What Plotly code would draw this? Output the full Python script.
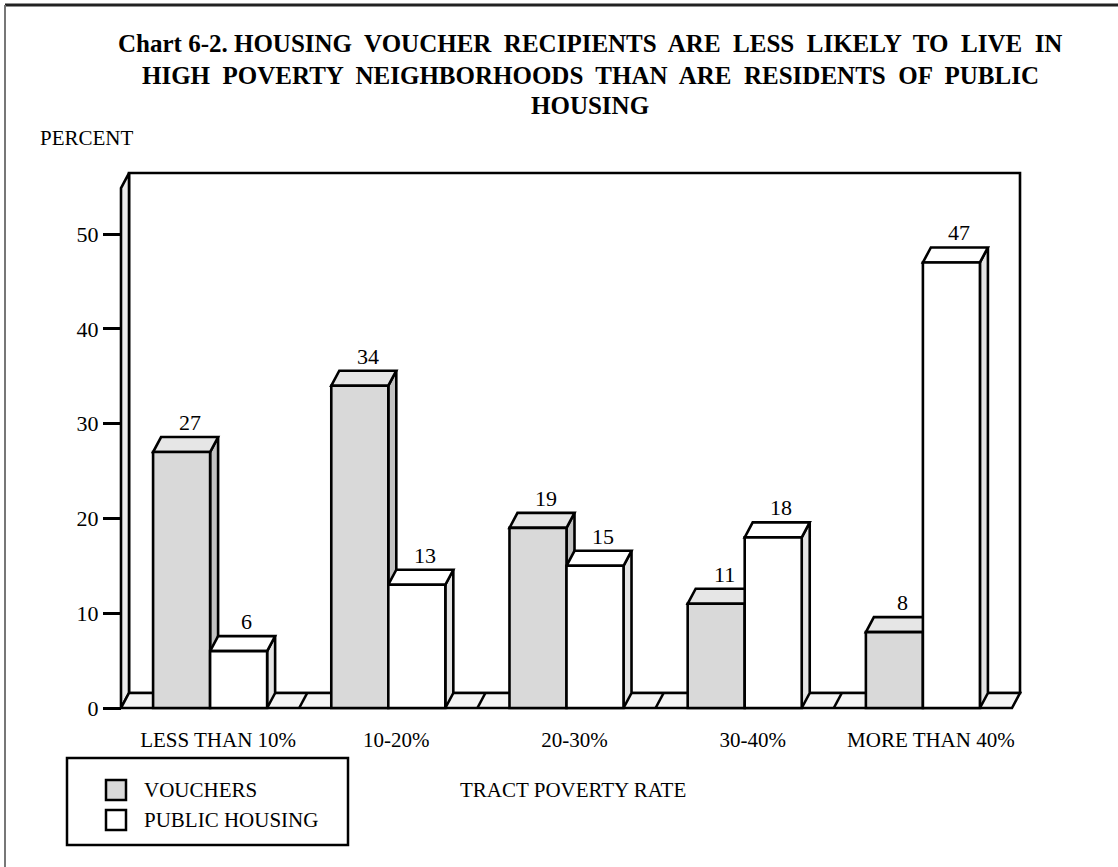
import plotly.graph_objects as go

# ---- data ----
categories = ["LESS THAN 10%", "10-20%", "20-30%", "30-40%", "MORE THAN 40%"]
vouchers = [27, 34, 19, 11, 8]
public_housing = [6, 13, 15, 18, 47]
y_ticks = [0, 10, 20, 30, 40, 50]

# name, values, front colour, top colour, side colour, bar offset
series = [
    ("VOUCHERS", vouchers, "#d9d9d9", "#e6e6e6", "#c2c2c2", -0.32),
    ("PUBLIC HOUSING", public_housing, "#ffffff", "#ffffff", "#e4e4e4", 0.0),
]

# ---- geometry (pixels) ----
W, H = 1118, 867
L, R, T, B = 115, 1026, 168, 712       # padded plot area
X0_PX, Y0_PX = 121, 708                # where x=-0.5 and y=0 sit
PX_PER_CAT = 178.2
PX_PER_UNIT = 9.48

x_range = [-0.5 - (X0_PX - L) / PX_PER_CAT, -0.5 + (R - X0_PX) / PX_PER_CAT]
y_range = [-(B - Y0_PX) / PX_PER_UNIT, (Y0_PX - T) / PX_PER_UNIT]

DX = 8 / PX_PER_CAT      # depth offset in x units
DY = 15 / PX_PER_UNIT    # depth offset in y units
Y_TOP = 54.85            # front top of the left wall
BAR_W = 0.32
LW = 2.6
FONT = "Liberation Serif, Times New Roman, serif"


def px(x):
    return (x - L) / (R - L)


def py(y):
    return (B - y) / (B - T)


def poly(pts):
    return "M " + " L ".join(f"{x},{y}" for x, y in pts) + " Z"


def label(x, y, text, size=21, anchor="center", bold=False):
    if bold:
        text = f"<b>{text}</b>"
    return dict(x=px(x), y=py(y), xref="paper", yref="paper", text=text,
                xanchor=anchor, yanchor="middle", showarrow=False,
                font=dict(size=size, color="black", family=FONT))


shapes = []
line = dict(color="black", width=LW)

# back wall
shapes.append(dict(type="rect", xref="x", yref="y", layer="below",
                   x0=-0.5 + DX, x1=4.5 + DX, y0=DY, y1=Y_TOP + DY,
                   fillcolor="white", line=line))
# left side wall
shapes.append(dict(type="path", xref="x", yref="y", layer="below",
                   path=poly([(-0.5, 0), (-0.5, Y_TOP), (-0.5 + DX, Y_TOP + DY), (-0.5 + DX, DY)]),
                   fillcolor="#ececec", line=line))
# floor
shapes.append(dict(type="path", xref="x", yref="y", layer="below",
                   path=poly([(-0.5, 0), (4.5, 0), (4.5 + DX, DY), (-0.5 + DX, DY)]),
                   fillcolor="#f5f5f5", line=line))
for b in [0.5, 1.5, 2.5, 3.5]:
    shapes.append(dict(type="line", xref="x", yref="y", layer="below",
                       x0=b, y0=0, x1=b + DX, y1=DY, line=line))

# 3D faces of the bars (tops and sides)
annotations = []
for i in range(len(categories)):
    for name, vals, front, top, side, off in series:
        v = vals[i]
        x0 = i + off
        x1 = x0 + BAR_W
        shapes.append(dict(type="path", xref="x", yref="y", layer="below",
                           path=poly([(x1, 0), (x1, v), (x1 + DX, v + DY), (x1 + DX, DY)]),
                           fillcolor=side, line=line))
        shapes.append(dict(type="path", xref="x", yref="y", layer="below",
                           path=poly([(x0, v), (x1, v), (x1 + DX, v + DY), (x0 + DX, v + DY)]),
                           fillcolor=top, line=line))
        annotations.append(dict(x=(x0 + x1) / 2 + DX, y=v + DY, xref="x", yref="y",
                                text=str(v), showarrow=False, yanchor="bottom",
                                font=dict(size=22, color="black", family=FONT)))

fig = go.Figure()
for name, vals, front, top, side, off in series:
    fig.add_trace(go.Bar(
        x=list(range(len(categories))), y=vals, name=name,
        offset=off, width=BAR_W,
        marker=dict(color=front, line=dict(color="black", width=LW)),
        showlegend=False, hoverinfo="x+y",
    ))

# title, lines placed one by one
title_lines = [
    "Chart 6-2. HOUSING  VOUCHER  RECIPIENTS  ARE  LESS  LIKELY  TO  LIVE  IN",
    "HIGH  POVERTY  NEIGHBORHOODS  THAN  ARE  RESIDENTS  OF  PUBLIC",
    "HOUSING",
]
for k, txt in enumerate(title_lines):
    annotations.append(label(590, 44 + 31 * k, txt, size=25, bold=True))

annotations.append(label(38, 138, "PERCENT", anchor="left"))
annotations.append(label(573, 790, "TRACT POVERTY RATE"))

# legend box
shapes.append(dict(type="rect", xref="paper", yref="paper",
                   x0=px(67), x1=px(348), y0=py(845), y1=py(758),
                   fillcolor="white", line=dict(color="black", width=2.5)))
for k, (name, vals, front, top, side, off) in enumerate(series):
    yc = 790 + 30 * k
    shapes.append(dict(type="rect", xref="paper", yref="paper",
                       x0=px(106), x1=px(126), y0=py(yc + 10), y1=py(yc - 10),
                       fillcolor=front, line=dict(color="black", width=2.5)))
    annotations.append(label(142, yc, name, anchor="left"))

# outer frame (top and left edges)
shapes.append(dict(type="line", xref="paper", yref="paper",
                   x0=px(5), y0=py(5), x1=px(W), y1=py(5), line=dict(color="#222222", width=3)))
shapes.append(dict(type="line", xref="paper", yref="paper",
                   x0=px(5), y0=py(5), x1=px(5), y1=py(H), line=dict(color="#777777", width=2)))

fig.update_layout(
    width=W, height=H,
    margin=dict(l=L, r=W - R, t=T, b=H - B, autoexpand=False),
    paper_bgcolor="white", plot_bgcolor="rgba(0,0,0,0)",
    font=dict(family=FONT, color="black"),
    barmode="overlay",
    shapes=shapes, annotations=annotations,
    showlegend=False,
)
fig.update_xaxes(
    range=x_range, tickvals=[i + DX for i in range(len(categories))], ticktext=categories,
    ticks="outside", ticklen=9, tickcolor="rgba(0,0,0,0)",
    showgrid=False, zeroline=False, showline=False,
    tickfont=dict(size=21, family=FONT, color="black"),
)
fig.update_yaxes(
    range=y_range, tickvals=y_ticks, anchor="free", position=px(X0_PX),
    ticks="outside", ticklen=18, tickwidth=3, tickcolor="black",
    showgrid=False, zeroline=False, showline=False,
    tickfont=dict(size=22, family=FONT, color="black"),
)

# the page's default body margin would shift the figure by 8px
fig.write_html("out.html", config={"displayModeBar": False},
               post_script="document.body.style.margin='0px';")
